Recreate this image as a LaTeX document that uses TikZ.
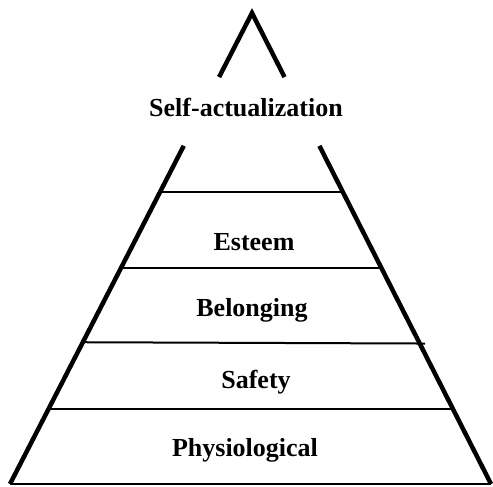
\documentclass[tikz,border=0pt]{standalone}
\usepackage{fontspec}
\setmainfont{Liberation Serif}
\usetikzlibrary{calc}

\begin{document}
\begin{tikzpicture}[x=1pt,y=-1pt,
  edge/.style={line width=4.5pt},
  tier/.style={line width=2pt},
  tiertext/.style={font=\fontsize{26}{30}\selectfont\bfseries,anchor=base,inner sep=0pt}
]
  \useasboundingbox (0,0) rectangle (493,487);

  % Corners
  \coordinate (apex) at (252,13);
  \coordinate (bl) at (10,484);
  \coordinate (br) at (491,484);

  % Sides, broken by the top label
  \draw[edge] ($(apex)!0.136!(bl)$) -- (apex) -- ($(apex)!0.136!(br)$);
  \draw[edge] ($(apex)!0.282!(bl)$) -- (bl);
  \draw[edge] ($(apex)!0.282!(br)$) -- (br);
  \draw[tier,line width=2.5pt] (bl) -- (br);

  % Tiers
  \foreach \f in {0.380,0.541,0.841}
    \draw[tier] ($(apex)!\f!(bl)$) -- ($(apex)!\f!(br)$);
  \draw[tier] ($(apex)!0.699!(bl)$) -- ($(apex)!0.699!(br)+(6,1.3)$);

  % Labels
  \node[tiertext] (selfact) at (246,117) {Self-actualization};
  \node[tiertext] (esteem) at (254,250) {Esteem};
  \node[tiertext] (belong) at (252,316) {Belonging};
  \node[tiertext] (safety) at (256,388) {Safety};
  \node[tiertext] (physio) at (245,456) {Physiological};
\end{tikzpicture}
\end{document}
